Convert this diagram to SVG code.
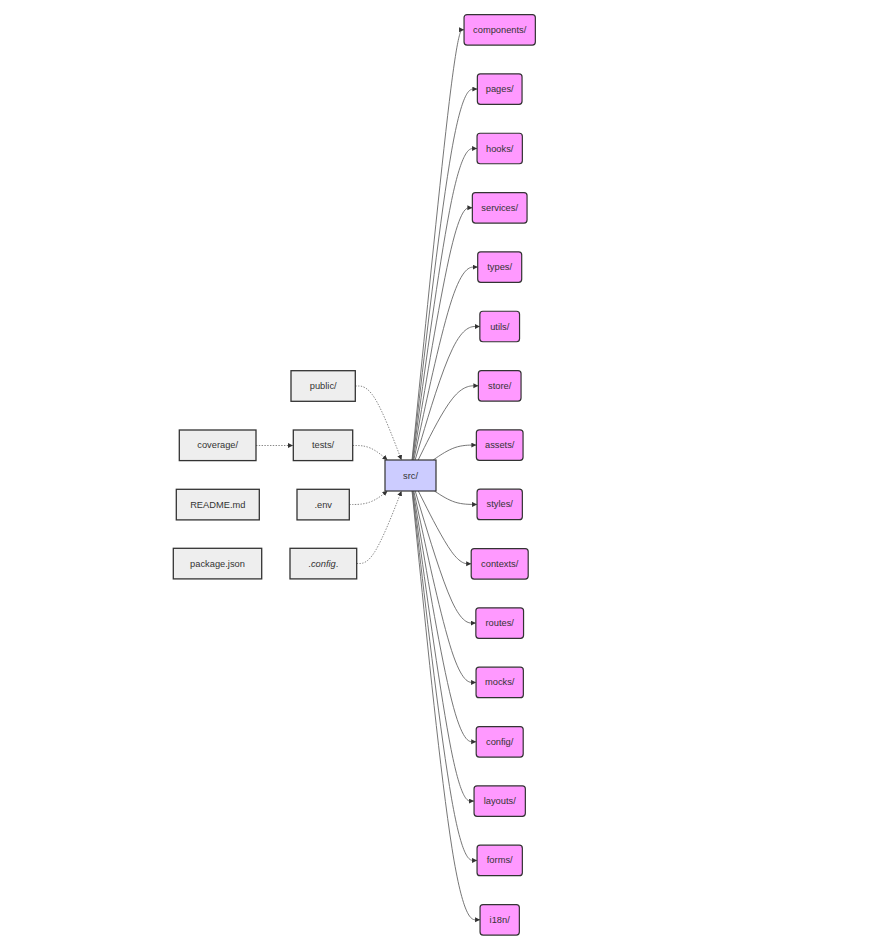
<svg xmlns="http://www.w3.org/2000/svg" width="896" height="947" viewBox="0 0 896 947">
<style>
text{font-family:"Liberation Sans",Arial,sans-serif;font-size:9.3px;fill:#333;text-anchor:middle;dominant-baseline:central}
.pink{fill:#ff99ff;stroke:#333;stroke-width:1.2}
.gray{fill:#eeeeee;stroke:#333;stroke-width:1.3}
.src{fill:#ccccff;stroke:#333;stroke-width:1.2}
.e{fill:none;stroke:#666;stroke-width:0.9;marker-end:url(#arr)}
.d{fill:none;stroke:#888;stroke-width:1;stroke-dasharray:1.4 1.4;marker-end:url(#arr)}
</style>
<defs>
<marker id="arr" markerUnits="userSpaceOnUse" markerWidth="6" markerHeight="6" refX="5" refY="2.5" orient="auto">
<path d="M0,0 L5,2.5 L0,5 z" fill="#333"/>
</marker>
</defs>
<rect width="896" height="947" fill="#ffffff"/>
<g id="connectors">
<path class="e" d="M412.05,460 L419.2,388.3 C426.4,316.6 440.7,173.2 449.3,101.5 C458,29.8 461,29.8 462.5,29.8 L464.05,29.8"/>
<path class="e" d="M412.3,460 L419.4,398.2 C426.5,336.4 440.8,212.7 451.6,150.9 C462.5,89.1 469.9,89.1 473.6,89.1 L477.35,89.1"/>
<path class="e" d="M412.6,460 L419.7,408.1 C426.7,356.2 440.9,252.3 451.6,200.4 C462.4,148.5 469.7,148.5 473.4,148.5 L477.05,148.5"/>
<path class="e" d="M413.1,460 L420.1,418 C427.1,375.9 441,291.9 450.9,249.8 C460.8,207.8 466.6,207.8 469.5,207.8 L472.35,207.8"/>
<path class="e" d="M413.8,460 L420.7,427.9 C427.5,395.7 441.3,331.4 451.9,299.3 C462.6,267.1 470.1,267.1 473.9,267.1 L477.7,267.1"/>
<path class="e" d="M415.1,460 L421.8,437.8 C428.4,415.5 441.7,371 452.5,348.75 C463.3,326.5 471.6,326.5 475.7,326.5 L479.85,326.5"/>
<path class="e" d="M418.2,460 L424.3,447.6 C430.5,435.3 442.7,410.5 452.8,398.2 C462.8,385.8 470.6,385.8 474.5,385.8 L478.35,385.8"/>
<path class="e" d="M433.2,460 L436.8,457.5 C440.5,455 447.7,450.1 454.9,447.6 C462.1,445.1 469.2,445.1 472.8,445.1 L476.35,445.1"/>
<path class="e" d="M434.4,491 L437.8,493.2 C441.3,495.5 448.1,499.9 455.2,502.2 C462.4,504.4 469.7,504.4 473.4,504.4 L477.05,504.4"/>
<path class="e" d="M418.3,491 L424.4,503.1 C430.5,515.3 442.8,539.5 451.6,551.7 C460.4,563.8 465.8,563.8 468.5,563.8 L471.2,563.8"/>
<path class="e" d="M415.2,491 L421.8,513 C428.5,535 441.7,579.1 451.8,601.1 C461.95,623.1 468.9,623.1 472.4,623.1 L475.85,623.1"/>
<path class="e" d="M413.8,491 L420.7,522.9 C427.5,554.8 441.3,618.6 451.6,650.5 C462,682.4 469,682.4 472.5,682.4 L476.05,682.4"/>
<path class="e" d="M413.1,491 L420.1,532.8 C427.1,574.6 441,658.2 451.6,700 C462.1,741.8 469.1,741.8 472.7,741.8 L476.2,741.8"/>
<path class="e" d="M412.6,491 L419.7,542.7 C426.7,594.4 440.9,697.7 451.1,749.4 C461.35,801.1 467.7,801.1 470.9,801.1 L474.05,801.1"/>
<path class="e" d="M412.3,491 L419.4,552.6 C426.5,614.1 440.8,737.3 451.6,798.8 C462.4,860.4 469.7,860.4 473.4,860.4 L477.05,860.4"/>
<path class="e" d="M412.05,491 L419.2,562.5 C426.4,633.9 440.7,776.9 452,848.3 C463.35,919.8 471.7,919.8 475.9,919.8 L480.05,919.8"/>
<path class="d" d="M355.3,386 L358.25,386 C361.2,386 367.1,386 374.8,398.3 C382.5,410.7 392,435.3 396.75,447.7 L401.5,460"/>
<path class="d" d="M352.7,445.5 L355.6,445.5 C358.5,445.5 364.2,445.5 370,447.9 C375.8,450.3 381.7,455.2 384.6,457.6 L387.5,460"/>
<path class="d" d="M349.3,504.5 L352.75,504.5 C356.2,504.5 363.1,504.5 369.5,502.25 C375.8,500 381.7,495.5 384.6,493.25 L387.5,491"/>
<path class="d" d="M356.7,563.5 L359.4,563.5 C362.1,563.5 367.6,563.5 375,551.4 C382.5,539.3 392,515.2 396.75,503.1 L401.5,491"/>
<path class="d" d="M256,445.5 L293,445.5"/>
</g>
<g id="src"><rect class="src" x="385" y="460" width="51" height="31"/><text x="410.5" y="475.5">src/</text></g>
<g id="public"><rect class="gray" x="291" y="370.7" width="64.3" height="30.6"/><text x="323.2" y="386">public/</text></g>
<g id="tests"><rect class="gray" x="293.3" y="430" width="59.4" height="30.6"/><text x="323" y="445.3">tests/</text></g>
<g id="coverage"><rect class="gray" x="179.3" y="430" width="76.7" height="30.6"/><text x="217.7" y="445.3">coverage/</text></g>
<g id="readme"><rect class="gray" x="176.3" y="489.3" width="83" height="30.6"/><text x="217.8" y="504.6">README.md</text></g>
<g id="env"><rect class="gray" x="297" y="489.3" width="52.3" height="30.6"/><text x="323.2" y="504.6">.env</text></g>
<g id="packagejson"><rect class="gray" x="173.3" y="548.3" width="88.4" height="30.6"/><text x="217.5" y="563.6">package.json</text></g>
<g id="config-files"><rect class="gray" x="290" y="548.3" width="66.7" height="30.6"/><text x="323.3" y="563.6">.<tspan font-style="italic">config</tspan>.</text></g>
<g id="components"><rect class="pink" x="464.05" y="14.55" width="71.3" height="30.5" rx="3"/><text x="499.7" y="29.8">components/</text></g>
<g id="pages"><rect class="pink" x="477.35" y="73.85" width="44.7" height="30.5" rx="3"/><text x="499.7" y="89.1">pages/</text></g>
<g id="hooks"><rect class="pink" x="477.05" y="133.25" width="45.3" height="30.5" rx="3"/><text x="499.7" y="148.5">hooks/</text></g>
<g id="services"><rect class="pink" x="472.35" y="192.55" width="54.7" height="30.5" rx="3"/><text x="499.7" y="207.8">services/</text></g>
<g id="types"><rect class="pink" x="477.7" y="251.85" width="44" height="30.5" rx="3"/><text x="499.7" y="267.1">types/</text></g>
<g id="utils"><rect class="pink" x="479.85" y="311.25" width="39.7" height="30.5" rx="3"/><text x="499.7" y="326.5">utils/</text></g>
<g id="store"><rect class="pink" x="478.35" y="370.55" width="42.7" height="30.5" rx="3"/><text x="499.7" y="385.8">store/</text></g>
<g id="assets"><rect class="pink" x="476.35" y="429.85" width="46.7" height="30.5" rx="3"/><text x="499.7" y="445.1">assets/</text></g>
<g id="styles"><rect class="pink" x="477.05" y="489.15" width="45.3" height="30.5" rx="3"/><text x="499.7" y="504.4">styles/</text></g>
<g id="contexts"><rect class="pink" x="471.2" y="548.55" width="57" height="30.5" rx="3"/><text x="499.7" y="563.8">contexts/</text></g>
<g id="routes"><rect class="pink" x="475.85" y="607.85" width="47.7" height="30.5" rx="3"/><text x="499.7" y="623.1">routes/</text></g>
<g id="mocks"><rect class="pink" x="476.05" y="667.15" width="47.3" height="30.5" rx="3"/><text x="499.7" y="682.4">mocks/</text></g>
<g id="config"><rect class="pink" x="476.2" y="726.55" width="47" height="30.5" rx="3"/><text x="499.7" y="741.8">config/</text></g>
<g id="layouts"><rect class="pink" x="474.05" y="785.85" width="51.3" height="30.5" rx="3"/><text x="499.7" y="801.1">layouts/</text></g>
<g id="forms"><rect class="pink" x="477.05" y="845.15" width="45.3" height="30.5" rx="3"/><text x="499.7" y="860.4">forms/</text></g>
<g id="i18n"><rect class="pink" x="480.05" y="904.55" width="39.3" height="30.5" rx="3"/><text x="499.7" y="919.8">i18n/</text></g>
</svg>
